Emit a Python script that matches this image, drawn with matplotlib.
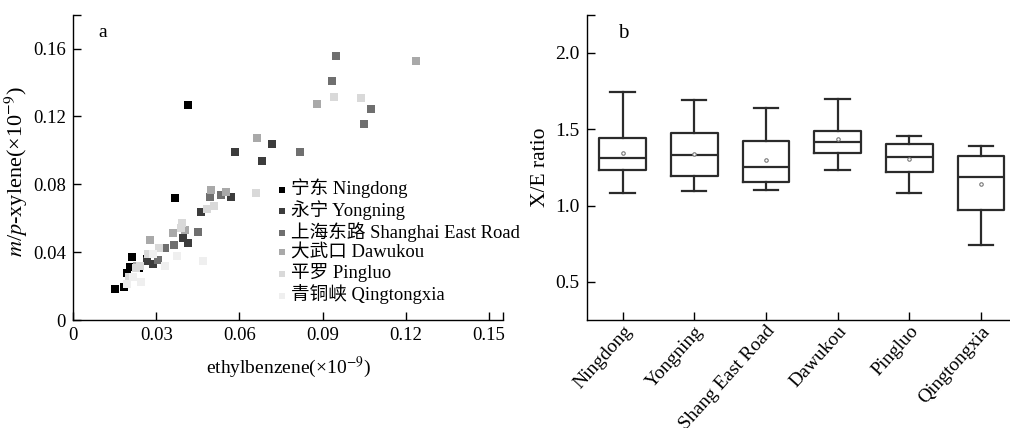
import matplotlib
matplotlib.use("Agg")
import matplotlib.pyplot as plt

plt.rcParams['font.family'] = ['Liberation Serif', 'Noto Sans CJK SC']
plt.rcParams['mathtext.fontset'] = 'stix'
plt.rcParams['font.size'] = 13

# ---- panel a: m/p-xylene vs ethylbenzene (x10^-9) ----
site_labels = ["宁东 Ningdong", "永宁 Yongning", "上海东路 Shanghai East Road",
               "大武口 Dawukou", "平罗 Pingluo", "青铜峡 Qingtongxia"]
site_colors = ["#000000", "#3c3c3c", "#6f6f6f", "#a9a9a9", "#d9d9d9", "#efefef"]

ningdong_x = [0.0151, 0.0185, 0.0193, 0.0205, 0.0211, 0.0414, 0.0367, 0.0268, 0.0238]
ningdong_y = [0.0182, 0.0196, 0.0278, 0.0310, 0.0372, 0.1270, 0.0720, 0.0357, 0.0308]

yongning_x = [0.0584, 0.0719, 0.0680, 0.0570, 0.0463, 0.0395, 0.0414, 0.0288, 0.0266]
yongning_y = [0.0988, 0.1040, 0.0939, 0.0723, 0.0639, 0.0484, 0.0453, 0.0329, 0.0350]

shanghai_x = [0.0949, 0.0934, 0.1074, 0.1049, 0.0818, 0.0533, 0.0493, 0.0449, 0.0365, 0.0331, 0.0306]
shanghai_y = [0.1558, 0.1410, 0.1243, 0.1158, 0.0988, 0.0739, 0.0725, 0.0520, 0.0445, 0.0425, 0.0355]

dawukou_x = [0.1238, 0.0880, 0.0664, 0.0499, 0.0550, 0.0404, 0.0360, 0.0278, 0.0230]
dawukou_y = [0.1529, 0.1272, 0.1072, 0.0764, 0.0755, 0.0529, 0.0514, 0.0474, 0.0320]

pingluo_x = [0.0942, 0.1038, 0.0660, 0.0482, 0.0509, 0.0394, 0.0389, 0.0310, 0.0272, 0.0240, 0.0228, 0.0200]
pingluo_y = [0.1313, 0.1307, 0.0749, 0.0653, 0.0672, 0.0572, 0.0543, 0.0427, 0.0392, 0.0321, 0.0304, 0.0255]

qingtongxia_x = [0.0469, 0.0374, 0.0332, 0.0244, 0.0216, 0.0288, 0.0195]
qingtongxia_y = [0.0349, 0.0378, 0.0321, 0.0225, 0.0255, 0.0390, 0.0215]

site_x = [ningdong_x, yongning_x, shanghai_x, dawukou_x, pingluo_x, qingtongxia_x]
site_y = [ningdong_y, yongning_y, shanghai_y, dawukou_y, pingluo_y, qingtongxia_y]

# ---- panel b: X/E ratio box stats ----
sites = ["Ningdong", "Yongning", "Shang East Road", "Dawukou", "Pingluo", "Qingtongxia"]
whislo = [1.083, 1.094, 1.103, 1.234, 1.083, 0.742]
q1     = [1.231, 1.194, 1.155, 1.347, 1.220, 0.969]
med    = [1.308, 1.328, 1.255, 1.419, 1.319, 1.190]
q3     = [1.441, 1.476, 1.421, 1.491, 1.406, 1.325]
whishi = [1.745, 1.694, 1.640, 1.697, 1.454, 1.391]
means  = [1.345, 1.338, 1.301, 1.434, 1.306, 1.138]

fig = plt.figure(figsize=(10.1, 4.28), dpi=100)
ax1 = fig.add_axes([0.0723, 0.2523, 0.4257, 0.7134])
ax2 = fig.add_axes([0.5809, 0.2523, 0.4180, 0.7134])

for xs, ys, c, lab in zip(site_x, site_y, site_colors, site_labels):
    ax1.scatter(xs, ys, marker='s', s=28, color=c, linewidths=0, label=lab)

ax1.set_xlim(0, 0.155)
ax1.set_ylim(0, 0.18)
ax1.set_xticks([0, 0.03, 0.06, 0.09, 0.12, 0.15, 0.155])
ax1.set_xticklabels(["0", "0.03", "0.06", "0.09", "0.12", "0.15", ""])
ax1.set_yticks([0, 0.04, 0.08, 0.12, 0.16, 0.18])
ax1.set_yticklabels(["0", "0.04", "0.08", "0.12", "0.16", ""])
ax1.set_xlabel(r"ethylbenzene(×10$^{-9}$)", fontsize=14, labelpad=8)
ax1.set_ylabel(r"$m$/$p$-xylene(×10$^{-9}$)", fontsize=16)
ax1.yaxis.set_label_coords(-0.1, 0.485)
ax1.text(0.06, 0.97, "a", transform=ax1.transAxes, fontsize=14, va='top')
leg = ax1.legend(loc='upper left', bbox_to_anchor=(0.472, 0.463), frameon=False,
                 fontsize=13.4, markerscale=0.8, handletextpad=0.1, handlelength=0.7,
                 labelspacing=0.11, borderaxespad=0, borderpad=0)

stats = []
for i in range(len(sites)):
    stats.append(dict(label=sites[i], whislo=whislo[i], q1=q1[i], med=med[i],
                      q3=q3[i], whishi=whishi[i], mean=means[i], fliers=[]))

lc = "#2b2b2b"
ax2.bxp(stats, positions=range(6), widths=0.65, showmeans=True, showfliers=False,
        boxprops=dict(color=lc, linewidth=1.6),
        medianprops=dict(color=lc, linewidth=1.6),
        whiskerprops=dict(color=lc, linewidth=1.6),
        capprops=dict(color=lc, linewidth=1.6),
        capwidths=0.34,
        meanprops=dict(marker='o', markersize=2.5, markerfacecolor='white',
                       markeredgecolor='#777777', markeredgewidth=0.8))
ax2.set_xlim(-0.5, 5.39)
ax2.set_ylim(0.25, 2.25)
ax2.set_yticks([0.5, 1.0, 1.5, 2.0, 2.25])
ax2.set_yticklabels(["0.5", "1.0", "1.5", "2.0", ""])
ax2.set_xticks(range(6))
ax2.set_xticklabels(sites, rotation=48, ha='right', va='top', rotation_mode='anchor',
                    fontsize=12.1)
ax2.set_ylabel("X/E ratio", fontsize=15.5)
ax2.yaxis.set_label_coords(-0.088, 0.5)
ax2.text(0.075, 0.97, "b", transform=ax2.transAxes, fontsize=15, va='top')

ax1.tick_params(labelsize=13.5)
ax2.tick_params(labelsize=14)
ax2.tick_params(axis='x', pad=2)
for ax in (ax1, ax2):
    ax.spines['top'].set_visible(False)
    ax.spines['right'].set_visible(False)
    ax.tick_params(direction='in', length=6, width=1)
    ax.spines['left'].set_linewidth(1)
    ax.spines['bottom'].set_linewidth(1)
ax1.tick_params(pad=5)
ax2.tick_params(axis='y', pad=5)

fig.savefig("out.png", dpi=100)
